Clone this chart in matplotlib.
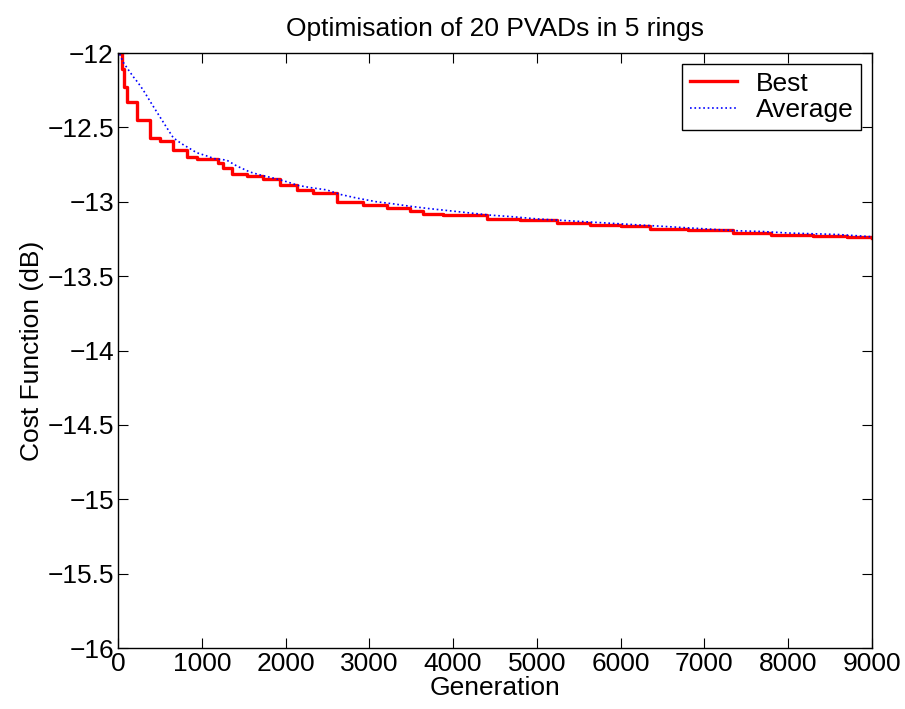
import matplotlib
matplotlib.use('Agg')
import matplotlib.pyplot as plt

# data
best_gen = [0, 44, 72, 111, 230, 382, 500, 652, 827, 938, 1193, 1253, 1357, 1536, 1734,
            1933, 2132, 2331, 2610, 2928, 3207, 3485, 3640, 3880, 4400, 4800, 5235, 5632,
            6000, 6348, 6800, 7340, 7800, 8300, 8700, 9000]
best_cost = [-12.00, -12.11, -12.23, -12.33, -12.45, -12.57, -12.59, -12.65, -12.70, -12.71,
             -12.74, -12.77, -12.81, -12.83, -12.85, -12.89, -12.92, -12.94, -13.00, -13.02,
             -13.04, -13.06, -13.08, -13.09, -13.115, -13.125, -13.14, -13.155, -13.165,
             -13.18, -13.19, -13.21, -13.22, -13.23, -13.235, -13.245]

avg_gen = [0, 60, 120, 183, 240, 302, 400, 501, 580, 660, 760, 850, 939, 1050, 1150, 1297,
           1420, 1575, 1700, 1850, 2013, 2150, 2300, 2490, 2650, 2850, 3087, 3300, 3485,
           3700, 3950, 4200, 4450, 4700, 5000, 5300, 5600, 5900, 6200, 6500, 6800, 7100,
           7400, 7700, 8000, 8300, 8600, 9000]
avg_cost = [-11.98, -12.06, -12.11, -12.16, -12.20, -12.25, -12.34, -12.43, -12.50, -12.57,
            -12.61, -12.64, -12.67, -12.69, -12.71, -12.72, -12.76, -12.80, -12.82, -12.84,
            -12.865, -12.89, -12.905, -12.92, -12.95, -12.975, -13.00, -13.015, -13.03,
            -13.045, -13.06, -13.075, -13.09, -13.10, -13.115, -13.125, -13.135, -13.145,
            -13.155, -13.165, -13.175, -13.185, -13.195, -13.20, -13.21, -13.215, -13.22,
            -13.235]

plt.rcParams['font.family'] = ['Liberation Sans', 'DejaVu Sans']

fig = plt.figure(figsize=(9.05, 7.09), dpi=100)
ax = fig.add_axes([0.1304, 0.086, 0.8331, 0.8392])

ax.plot(best_gen, best_cost, color='red', linewidth=2.4, drawstyle='steps-post', label='Best')
ax.plot(avg_gen, avg_cost, color='blue', linewidth=1.2, linestyle=':', label='Average')

ax.set_xlim(0, 9000)
ax.set_ylim(-16, -12)
ax.set_xticks(range(0, 9001, 1000))
ax.set_yticks([-16, -15.5, -15, -14.5, -14, -13.5, -13, -12.5, -12])
ax.set_yticklabels(['\u221216', '\u221215.5', '\u221215', '\u221214.5', '\u221214',
                    '\u221213.5', '\u221213', '\u221212.5', '\u221212'])
ax.tick_params(direction='in', length=7, width=0.8, labelsize=19, top=True, right=True, pad=3)
for s in ax.spines.values():
    s.set_linewidth(1.0)

ax.set_xlabel('Generation', fontsize=19, labelpad=0)
ax.set_ylabel('Cost Function (dB)', fontsize=19, labelpad=2)
ax.set_title('Optimisation of 20 PVADs in 5 rings', fontsize=19, pad=12)

leg = ax.legend(loc='upper right', fontsize=19, fancybox=False, framealpha=1,
                edgecolor='black', borderaxespad=0.4, handlelength=1.8, borderpad=0.3,
                labelspacing=0.1, handletextpad=0.7)
leg.get_frame().set_linewidth(1.0)

fig.savefig('out.png', dpi=100)
